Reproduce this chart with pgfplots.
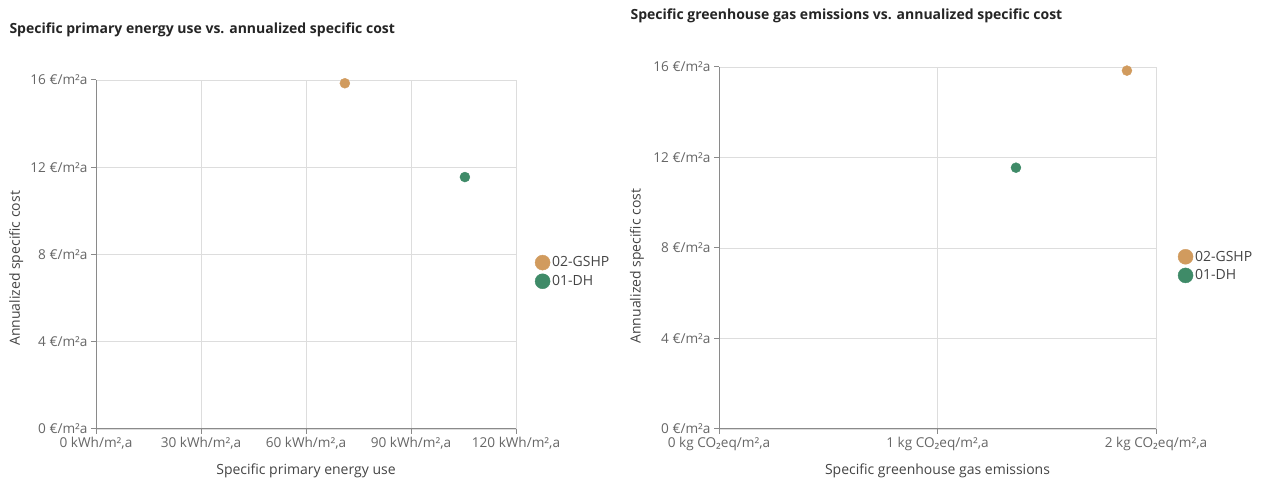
\documentclass[border=0pt]{standalone}
\usepackage{fontspec}
\setmainfont{Open Sans}
\newfontfamily\subfont{Noto Sans}
\usepackage{pgfplots}
\pgfplotsset{compat=1.18}

\definecolor{gshp}{HTML}{D19B5E}
\definecolor{dh}{HTML}{3F8B68}
\definecolor{gridc}{HTML}{DDDDDD}
\definecolor{axc}{HTML}{8A8A8A}
\definecolor{tickc}{HTML}{666666}
\definecolor{labc}{HTML}{444444}
\definecolor{titc}{HTML}{252525}

\newcommand{\COtwo}{CO{\subfont ₂}}

\pgfplotsset{
  costscatter/.style={
    scale only axis, clip=false,
    anchor=south west,
    axis x line*=bottom, axis y line*=left,
    axis line style={axc, line width=1pt, -},
    tick align=outside, major tick length=5pt,
    tick style={axc, line width=1pt},
    grid=major, major grid style={gridc, line width=0.9pt},
    ymin=0, ymax=16, ytick={0,4,8,12,16},
    yticklabels={0 €/m²a, 4 €/m²a, 8 €/m²a, 12 €/m²a, 16 €/m²a},
    tick label style={tickc, font=\fontsize{13.6}{15}\selectfont},
    label style={labc, font=\fontsize{14}{16}\selectfont},
    ylabel={Annualized specific cost},
    legend style={draw=none, fill=none, inner sep=0pt, row sep=3pt,
      font=\fontsize{14}{16}\selectfont, text=labc,
      cells={anchor=west}},
    legend image code/.code={\draw[##1, mark size=7.5pt] plot coordinates {(7.5pt,0)};},
    legend cell align=left,
  },
}

\begin{document}
\begin{tikzpicture}
\path[use as bounding box] (0,0) rectangle (1269pt,484pt);

\node[anchor=west, font=\bfseries\fontsize{14}{16}\selectfont, text=titc] at (6pt,454pt)
  {Specific primary energy use vs. annualized specific cost};
\node[anchor=west, font=\bfseries\fontsize{14}{16}\selectfont, text=titc] at (627pt,468pt)
  {Specific greenhouse gas emissions vs. annualized specific cost};

\begin{axis}[costscatter,
    at={(96pt,55pt)}, width=420pt, height=349pt,
    xmin=0, xmax=120, xtick={0,30,60,90,120},
    xticklabels={{0 kWh/m²,a},{30 kWh/m²,a},{60 kWh/m²,a},{90 kWh/m²,a},{120 kWh/m²,a}},
    xlabel={Specific primary energy use},
    xlabel style={at={(axis description cs:0.5,-0.12)}, anchor=center},
    ylabel style={at={(axis description cs:-0.19,0.46)}, anchor=center},
    legend style={at={(axis description cs:1.045,0.45)}, anchor=west},
  ]
  \addplot[only marks, mark=*, mark size=5pt, color=gshp] coordinates {(71.1,15.85)};
  \addlegendentry{02-GSHP}
  \addplot[only marks, mark=*, mark size=5pt, color=dh] coordinates {(105.4,11.55)};
  \addlegendentry{01-DH}
\end{axis}

\begin{axis}[costscatter,
    at={(719pt,55pt)}, width=437pt, height=362pt,
    xmin=0, xmax=2, xtick={0,1,2},
    xticklabels={{0 kg \COtwo eq/m²,a},{1 kg \COtwo eq/m²,a},{2 kg \COtwo eq/m²,a}},
    xlabel={Specific greenhouse gas emissions},
    xlabel style={at={(axis description cs:0.5,-0.115)}, anchor=center},
    ylabel style={at={(axis description cs:-0.188,0.45)}, anchor=center},
    legend style={at={(axis description cs:1.05,0.45)}, anchor=west},
  ]
  \addplot[only marks, mark=*, mark size=5pt, color=gshp] coordinates {(1.867,15.84)};
  \addlegendentry{02-GSHP}
  \addplot[only marks, mark=*, mark size=5pt, color=dh] coordinates {(1.359,11.55)};
  \addlegendentry{01-DH}
\end{axis}
\end{tikzpicture}
\end{document}
